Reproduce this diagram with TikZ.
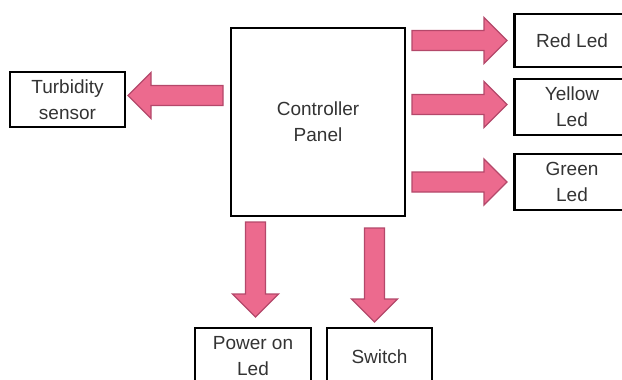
\documentclass[tikz,border=0pt]{standalone}
\usepackage{fontspec}
\setmainfont{Liberation Sans}
\usepackage{tikz}
\usetikzlibrary{calc,positioning}
\definecolor{arrowpink}{RGB}{236,106,142}
\definecolor{arrowedge}{RGB}{180,72,106}
\tikzset{
    %Define style for boxes
    unit/.style={
           rectangle,
           draw=black, line width=2.4pt,
           inner sep=0pt, outer sep=0pt,
           align=center,
           text=black!80,
           font=\fontsize{19}{26}\selectfont},
    panel/.style={
           unit,
           minimum width=174pt,
           minimum height=188pt},
    % Define block arrow
    arrowbody/.style={
           fill=arrowpink,
           draw=arrowedge, line width=1.4pt,
           line join=miter},
    flow/.pic={
           \filldraw[arrowbody] (0,-10) -- (#1-23,-10) -- (#1-23,-23) -- (#1,0)
              -- (#1-23,23) -- (#1-23,10) -- (0,10) -- cycle;}
}

\begin{document}
\begin{tikzpicture}[x=1pt,y=-1pt]
\useasboundingbox (0,0) rectangle (622,380);
\clip (0,0) rectangle (622,380);
 %nodes
\node[panel] (ctrl) at (318,122) {Controller\\Panel};
\node[unit, minimum width=115pt, minimum height=55pt] (turb) at (67.5,99.5) {Turbidity\\sensor};
\node[unit, minimum width=115pt, minimum height=53pt] (red) at (572,40.5) {Red Led};
\node[unit, minimum width=115pt, minimum height=56pt] (yel) at (572,107) {Yellow\\Led};
\node[unit, minimum width=115pt, minimum height=56pt] (grn) at (572,182) {Green\\Led};
\node[unit, minimum width=116pt, minimum height=57pt] (pwr) at (253,356.5) {Power on\\Led};
\node[unit, minimum width=105pt, minimum height=57pt] (sw) at (379.5,356.5) {Switch};
 %arrows
\pic[rotate=180] at ($(ctrl.west |- turb.east)+(-8,-4)$) {flow=95};
\pic at ($(ctrl.east |- red.west)+(7,0)$) {flow=95};
\pic at ($(ctrl.east |- yel.west)+(7,-2.5)$) {flow=95};
\pic at ($(ctrl.east |- grn.west)+(7,0)$) {flow=95};
\pic[rotate=-90] at ($(ctrl.south -| pwr.north)+(2.5,6)$) {flow=95};
\pic[rotate=-90] at ($(ctrl.south -| sw.north)+(-5,12)$) {flow=94};
\end{tikzpicture}
\end{document}
